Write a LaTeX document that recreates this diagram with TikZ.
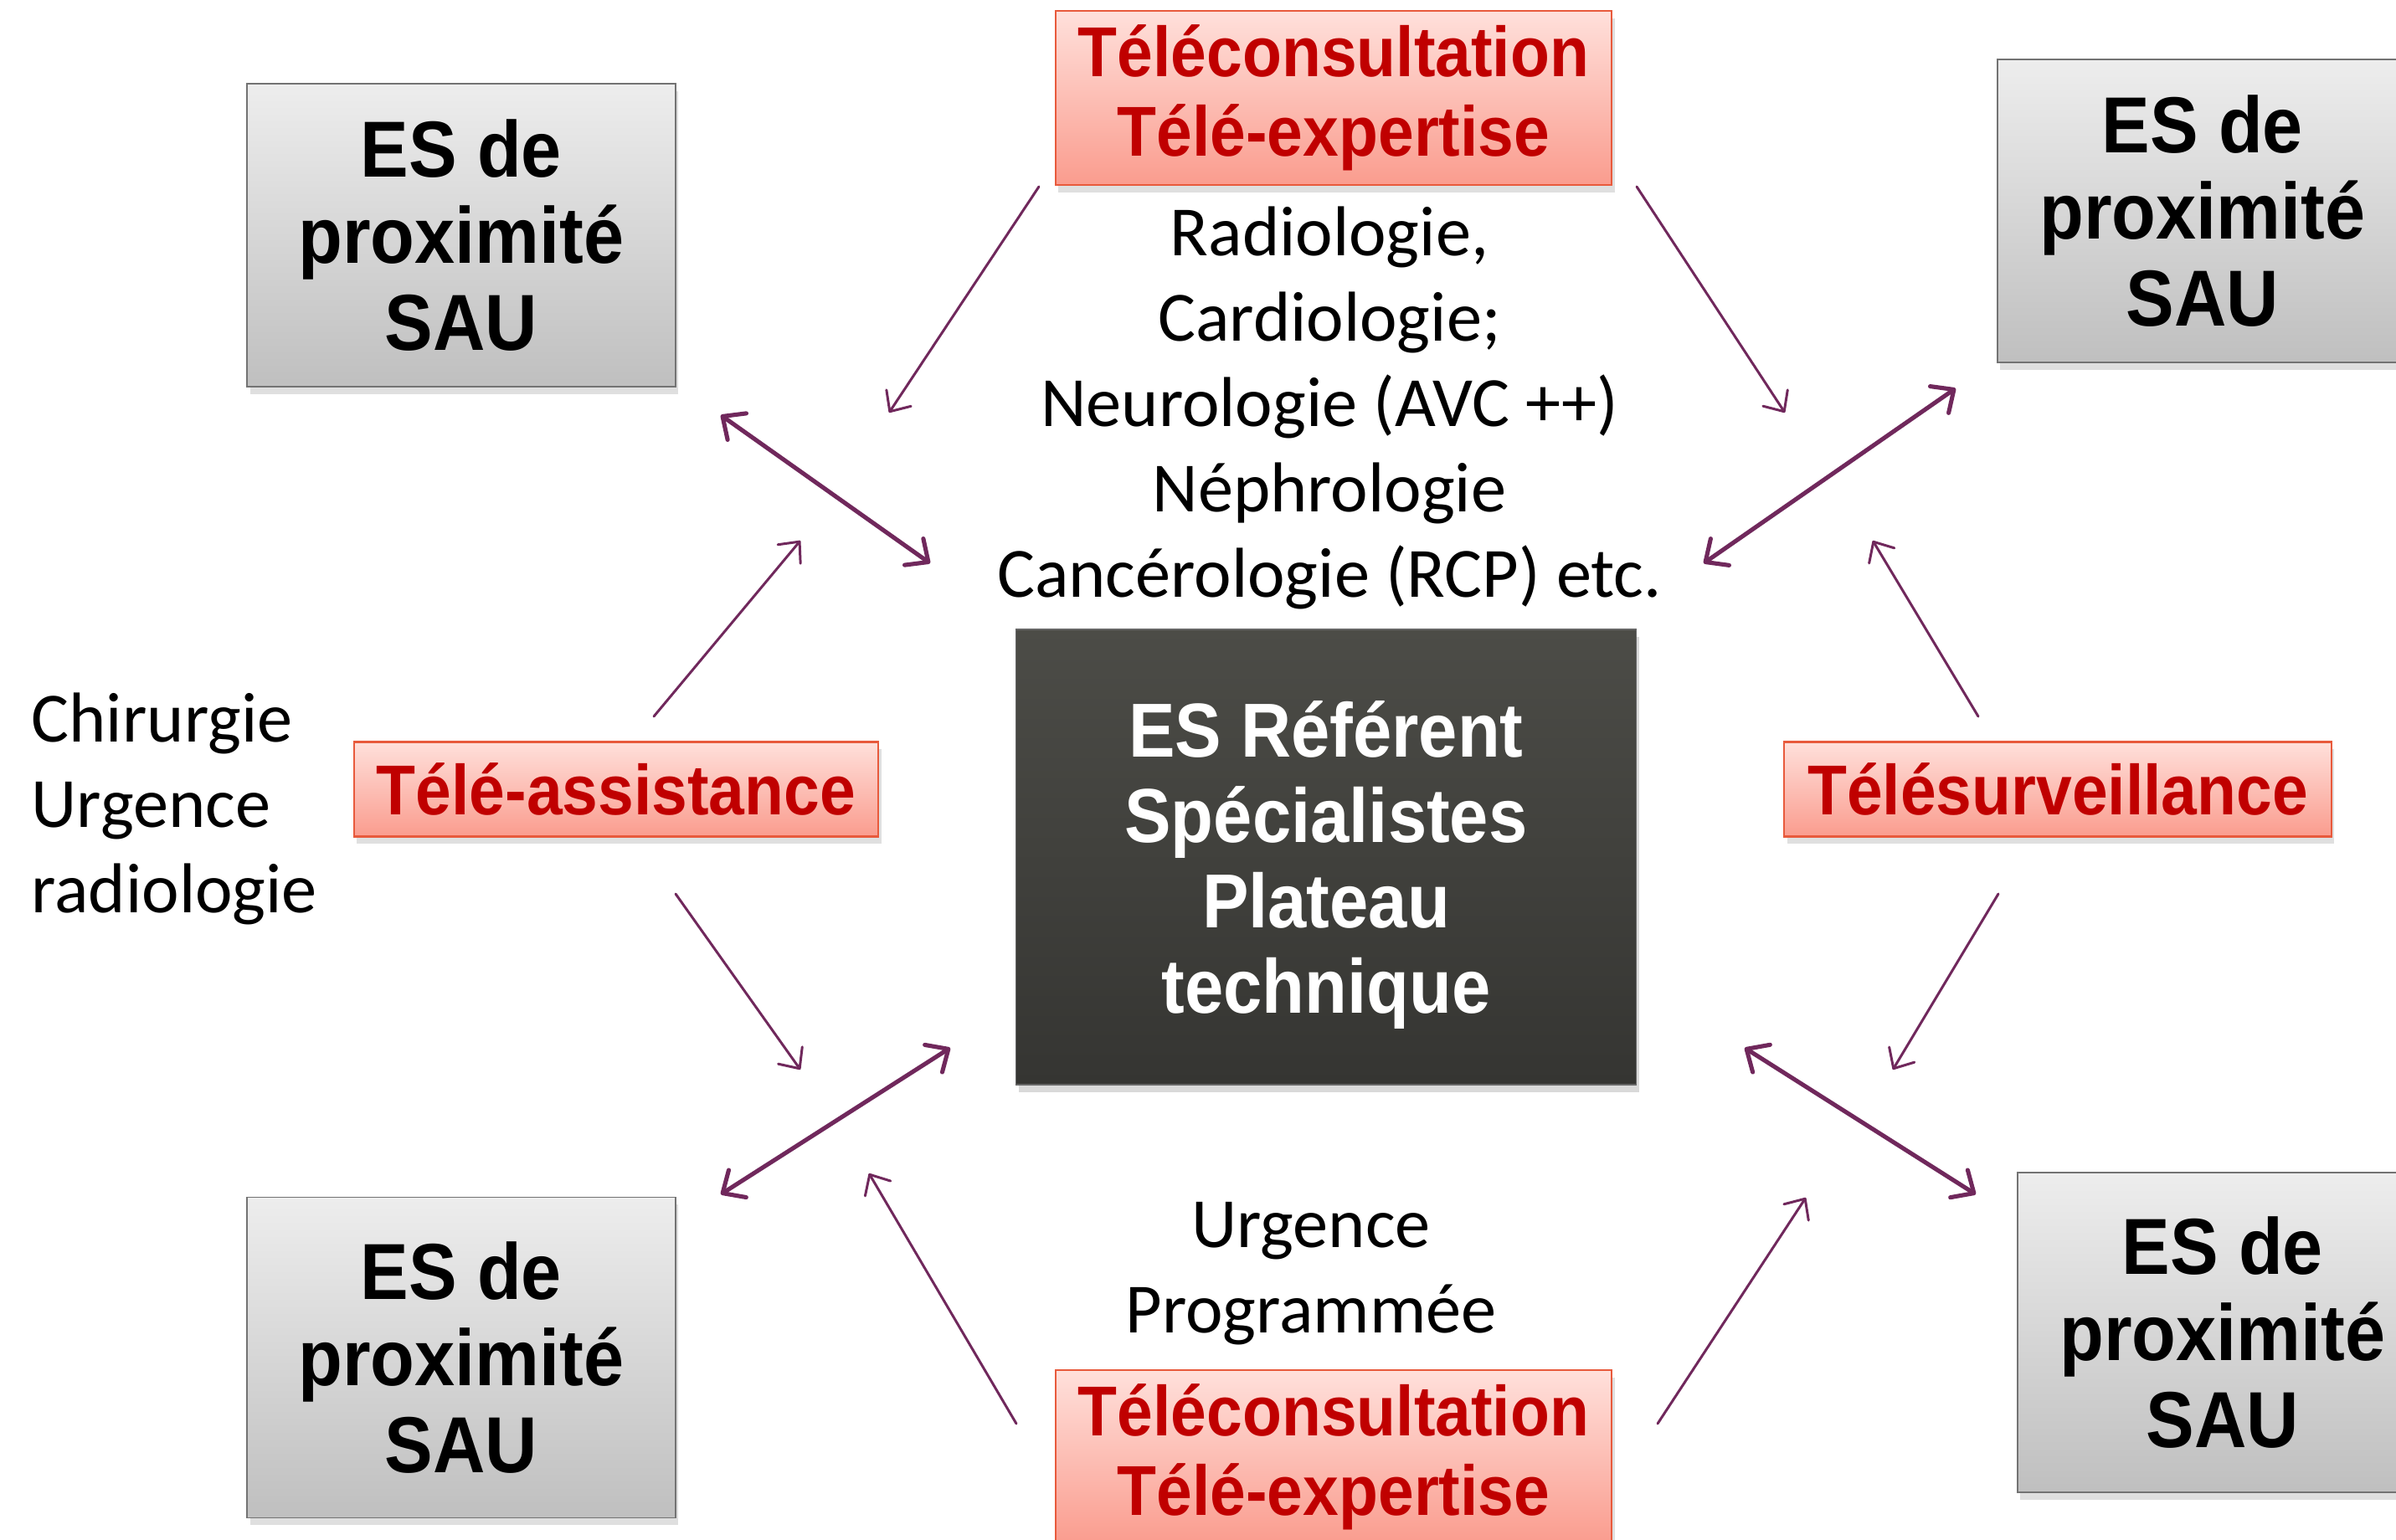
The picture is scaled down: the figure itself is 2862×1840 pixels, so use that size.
\documentclass[tikz,border=0pt]{standalone}
\usepackage{fontspec}
\setmainfont{Carlito}
\newfontfamily\boxfont[FakeStretch=0.91]{Liberation Sans}
\usetikzlibrary{arrows.meta, positioning, shadows}
\definecolor{linkpurple}{RGB}{112,40,92}
\definecolor{modered}{RGB}{192,0,0}

\begin{document}
\begin{tikzpicture}[x=0.01cm, y=-0.01cm,
  site/.style={draw=black!55, line width=0.5pt, top color=black!7, bottom color=black!25,
    inner sep=0pt, align=center, minimum width=5.11cm, minimum height=3.7cm,
    font=\boxfont\bfseries\fontsize{27}{29.5}\selectfont,
    drop shadow={shadow xshift=1pt, shadow yshift=-2.5pt, opacity=0.25}},
  hub/.style={draw=black!60, line width=0.4pt, top color={rgb,255:red,76;green,76;blue,71},
    bottom color={rgb,255:red,53;green,53;blue,50},
    inner sep=0pt, minimum width=7.41cm, minimum height=5.44cm,
    drop shadow={shadow xshift=1pt, shadow yshift=-2.5pt, opacity=0.3}},
  hubtext/.style={text=white, inner sep=0pt, align=center,
    font=\boxfont\bfseries\fontsize{26}{29}\selectfont},
  mode/.style={draw={rgb,255:red,232;green,90;blue,60}, line width=0.6pt,
    top color={rgb,255:red,255;green,224;blue,219}, bottom color={rgb,255:red,250;green,156;blue,142},
    text=modered, inner sep=0pt, align=center,
    font=\boxfont\bfseries\fontsize{24}{27}\selectfont,
    drop shadow={shadow xshift=1pt, shadow yshift=-2.5pt, opacity=0.25}},
  note/.style={inner sep=0pt, font=\fontsize{24}{29}\selectfont},
  link/.style={draw=linkpurple, line width=0.85pt, line cap=round,
    -{Straight Barb[round, length=5.5pt, width=10pt]}},
  duplex/.style={draw=linkpurple, line width=1.45pt, line cap=round,
    {Straight Barb[round, length=6pt, width=11pt]}-{Straight Barb[round, length=6pt, width=11pt]}}
]
\useasboundingbox (0,0) rectangle (2862,1840);
\clip (0,0) rectangle (2862,1840);

% etablissements
\node[site, minimum height=3.62cm] (siteNW) at (551,281) {ES de\\proximité\\SAU};
\node[site, minimum height=3.62cm, minimum width=4.9cm] (siteNE) at (2631,252) {ES de\\proximité\\SAU};
\node[site, minimum height=3.83cm] (siteSW) at (551,1622) {ES de\\proximité\\SAU};
\node[site, minimum height=3.82cm, minimum width=4.9cm] (siteSE) at (2655,1592) {ES de\\proximité\\SAU};
\node[hub] (ref) at (1584,1024) {};
\node[hubtext] (refLabel) at ([yshift=-0.09cm]ref.center) {ES Référent\\Spécialistes\\Plateau\\technique};

% modes
\node[mode, minimum width=6.64cm, minimum height=2.08cm] (tcTop) at (1593,117) {Téléconsultation\\Télé-expertise};
\node[mode, minimum width=6.64cm, minimum height=2.08cm] (tcBot) at (1593,1741) {Téléconsultation\\Télé-expertise};
\node[mode, minimum width=6.26cm, minimum height=1.13cm] (assist) at (736,943) {Télé-assistance};
\node[mode, minimum width=6.53cm, minimum height=1.13cm] (surv) at (2458,943) {Télésurveillance};

% textes
\node[note, align=center] (spec) at (1588,487) {Radiologie,\\Cardiologie;\\Neurologie (AVC ++)\\Néphrologie\\Cancérologie (RCP) etc.};
\node[note, align=left, anchor=west] (chir) at (37,966) {Chirurgie\\Urgence\\radiologie};
\node[note, align=center] (urg) at (1566,1522) {Urgence\\Programmée};

% extremites des fleches
\coordinate (nwA) at (861,496);   \coordinate (nwB) at (1111,673);
\coordinate (neA) at (2336,464);  \coordinate (neB) at (2035,673);
\coordinate (swA) at (861,1427);  \coordinate (swB) at (1135,1252);
\coordinate (seA) at (2360,1427); \coordinate (seB) at (2084,1252);

\coordinate (t1s) at (1241,223);  \coordinate (t1e) at (1062,493);
\coordinate (t2s) at (1955,223);  \coordinate (t2e) at (2132,493);
\coordinate (l1s) at (781,856);   \coordinate (l1e) at (956,646);
\coordinate (l2s) at (807,1068);  \coordinate (l2e) at (956,1278);
\coordinate (r1s) at (2363,856);  \coordinate (r1e) at (2237,646);
\coordinate (r2s) at (2387,1068); \coordinate (r2e) at (2261,1278);
\coordinate (b1s) at (1214,1701); \coordinate (b1e) at (1038,1402);
\coordinate (b2s) at (1980,1701); \coordinate (b2e) at (2157,1431);

\foreach \a/\b in {nwA/nwB, neA/neB, swA/swB, seA/seB}
  \draw[duplex] (\a) -- (\b);

\foreach \s in {t1,t2,l1,l2,r1,r2,b1,b2}
  \draw[link] (\s s) -- (\s e);

\end{tikzpicture}
\end{document}
